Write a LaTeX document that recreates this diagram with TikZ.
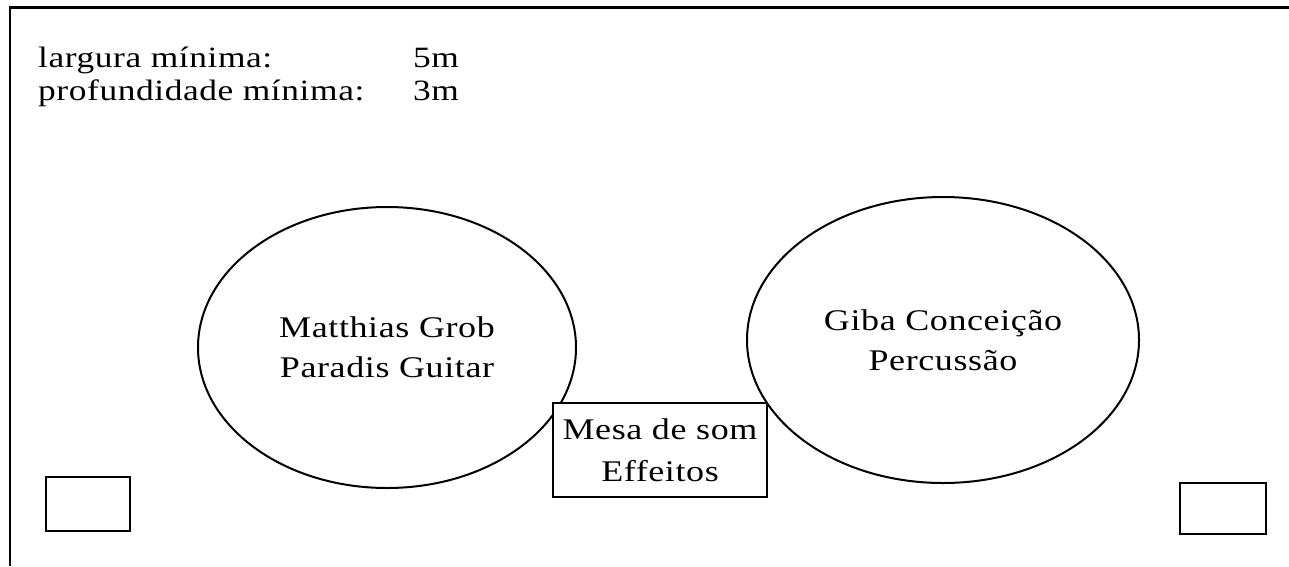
\documentclass[tikz,border=0pt]{standalone}
\usepackage{fontspec}
\setmainfont{Liberation Serif}[FakeStretch=1.2, LetterSpace=2]
\usetikzlibrary{shapes.geometric}

\tikzset{
  stage/.style={draw, ellipse, line width=2pt, inner sep=0, align=center,
    font=\fontsize{30}{40}\selectfont},
  gear/.style={draw, rectangle, line width=2pt, inner sep=0},
  spec/.style={anchor=base west, inner sep=0, font=\fontsize{29.5}{33}\selectfont}
}

\begin{document}
\begin{tikzpicture}[x=1pt, y=-1pt]
    \useasboundingbox (0,0) rectangle (1289,566);
    % stage outline
    \draw[line width=2.2pt] (1289,7.5) -- (10,7.5) -- (10,566);
    % minimum sizes
    \node[spec] (wlabel) at (38,67) {largura mínima:};
    \node[spec] (wvalue) at (413,67) {5m};
    \node[spec] (dlabel) at (38,100) {profundidade mínima:};
    \node[spec] (dvalue) at (413,100) {3m};
    % musicians
    \node[stage, minimum width=378pt, minimum height=281pt] (matthias) at (387,347.5)
      {Matthias Grob\\Paradis Guitar};
    \node[stage, minimum width=392pt, minimum height=286pt] (giba) at (943,340)
      {Giba Conceição\\Percussão};
    % mixer
    \node[gear, fill=white, minimum width=214pt, minimum height=94pt, align=center,
      font=\fontsize{30}{42}\selectfont] (mesa) at (660,450) {Mesa de som\\Effeitos};
    % monitors
    \node[gear, minimum width=84pt, minimum height=54pt] (monleft) at (88,504) {};
    \node[gear, minimum width=86pt, minimum height=51pt] (monright) at (1223,508.5) {};
\end{tikzpicture}
\end{document}
